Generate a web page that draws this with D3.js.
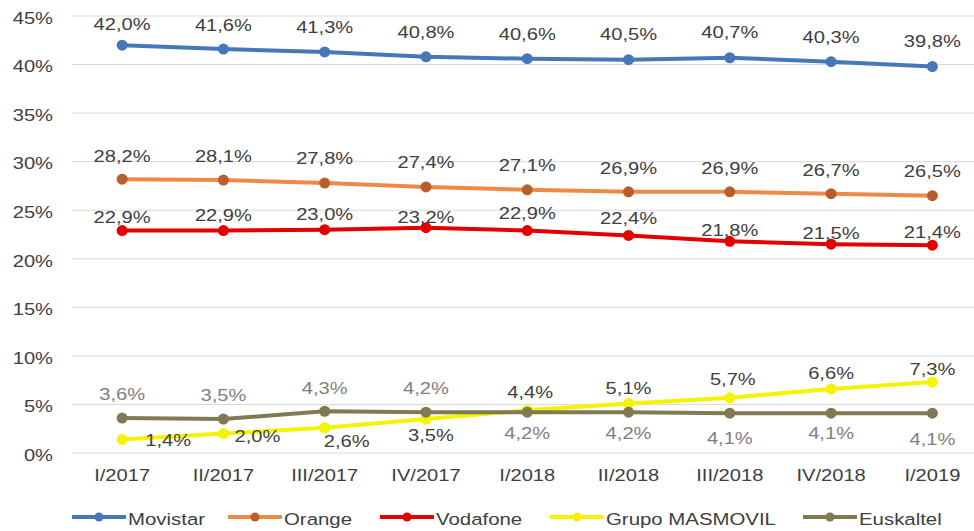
<!DOCTYPE html>
<html>
<head>
<meta charset="utf-8">
<script src="https://cdn.jsdelivr.net/npm/d3@7/dist/d3.min.js"></script>
<style>
html,body{margin:0;padding:0;background:#fff;}
svg{display:block;}
text{font-family:"Liberation Sans",Arial,sans-serif;}
</style>
</head>
<body>
<svg id="chart" width="974" height="531"></svg>
<script>
// ---- data ----
const categories = ["I/2017","II/2017","III/2017","IV/2017","I/2018","II/2018","III/2018","IV/2018","I/2019"];
const movistar  = [42.0, 41.6, 41.3, 40.8, 40.6, 40.5, 40.7, 40.3, 39.8];
const orange    = [28.2, 28.1, 27.8, 27.4, 27.1, 26.9, 26.9, 26.7, 26.5];
const vodafone  = [22.9, 22.9, 23.0, 23.2, 22.9, 22.4, 21.8, 21.5, 21.4];
const masmovil  = [1.4, 2.0, 2.6, 3.5, 4.4, 5.1, 5.7, 6.6, 7.3];
const euskaltel = [3.6, 3.5, 4.3, 4.2, 4.2, 4.2, 4.1, 4.1, 4.1];
const seriesNames = ["Movistar","Orange","Vodafone","Grupo MASMOVIL","Euskaltel"];
const yTicks = [0,5,10,15,20,25,30,35,40,45];

// ---- styles / label placement (kept apart from data) ----
const lineColors   = ["#4677b8","#ee8a45","#e50000","#f4f400","#7f7a52"];
const markerColors = ["#4677b8","#b85f2e","#e50000","#f4f400","#7f7a52"];
const labelColors  = ["#404040","#404040","#404040","#404040","#808080"];
const labelOffsets = [
  [[0,-21],[0,-24],[0,-25],[0,-25],[0,-25],[0,-26],[0,-26],[0,-24],[0,-25]],
  [[0,-23],[0,-24],[0,-25],[0,-25],[0,-25],[0,-24],[0,-24],[0,-24],[0,-24]],
  [[0,-13],[0,-15],[0,-15],[0,-11],[0,-17],[0,-17],[0,-11],[0,-11],[0,-13]],
  [[46,1],[34,3],[22,13],[5,16],[3,-18],[0,-15],[3,-18],[0,-16],[0,-13]],
  [[0,-24],[0,-24],[0,-23],[0,-24],[0,21],[0,21],[0,25],[0,20],[0,26]]
];
const SX = 1.22;

const allSeries = [movistar, orange, vodafone, masmovil, euskaltel];
const svg = d3.select("#chart");

const x = d3.scaleBand().domain(categories).range([71.5, 983]).padding(0);
const y = d3.scaleLinear().domain([0,45]).range([453,16]);
const cx = c => x(c) + x.bandwidth()/2;

function stext(g, tx, ty, str, opts){
  const t = g.append("text")
    .attr("transform", `translate(${tx},${ty}) scale(${opts.sx||SX},1)`)
    .attr("text-anchor", opts.anchor||"middle")
    .attr("dominant-baseline","central")
    .attr("font-size", opts.size||16)
    .attr("fill", opts.color||"#404040")
    .text(str);
  return t;
}

// gridlines
const grid = svg.append("g");
grid.selectAll("line").data(yTicks).join("line")
  .attr("x1",72).attr("x2",974)
  .attr("y1",d=>y(d)).attr("y2",d=>y(d))
  .attr("stroke","#d9d9d9").attr("stroke-width",1);

// y axis labels
const yl = svg.append("g");
yTicks.forEach(t => stext(yl, 53, y(t)+2, t + "%", {anchor:"end", size:16.5}));

// x axis labels
const xl = svg.append("g");
categories.forEach(c => stext(xl, cx(c), 475, c, {size:16.5}));

// lines
const line = d3.line().x((d,i)=>cx(categories[i])).y(d=>y(d));
allSeries.forEach((s,si) => {
  const g = svg.append("g");
  g.append("path").datum(s).attr("d", line)
    .attr("fill","none").attr("stroke", lineColors[si]).attr("stroke-width",4)
    .attr("stroke-linejoin","round").attr("stroke-linecap","round");
  g.selectAll("circle").data(s).join("circle")
    .attr("cx",(d,i)=>cx(categories[i])).attr("cy",d=>y(d)).attr("r",5.5)
    .attr("fill", markerColors[si]);
});

// data labels
const fmt = v => v.toFixed(1).replace(".", ",") + "%";
allSeries.forEach((s,si) => {
  const g = svg.append("g");
  s.forEach((v,i) => {
    const off = labelOffsets[si][i];
    stext(g, cx(categories[i]) + off[0], y(v) + off[1], fmt(v), {size:16.5, color:labelColors[si]});
  });
});

// legend
const legendX = [72, 228, 380, 550, 803];
const lg = svg.append("g");
seriesNames.forEach((n,si) => {
  const lx = legendX[si];
  lg.append("line").attr("x1",lx).attr("x2",lx+54).attr("y1",517).attr("y2",517)
    .attr("stroke",lineColors[si]).attr("stroke-width",4);
  lg.append("circle").attr("cx",lx+27).attr("cy",517).attr("r",4.5).attr("fill",markerColors[si]);
  stext(lg, lx+56, 519, n, {anchor:"start", size:17, sx:1.2});
});
</script>
</body>
</html>
